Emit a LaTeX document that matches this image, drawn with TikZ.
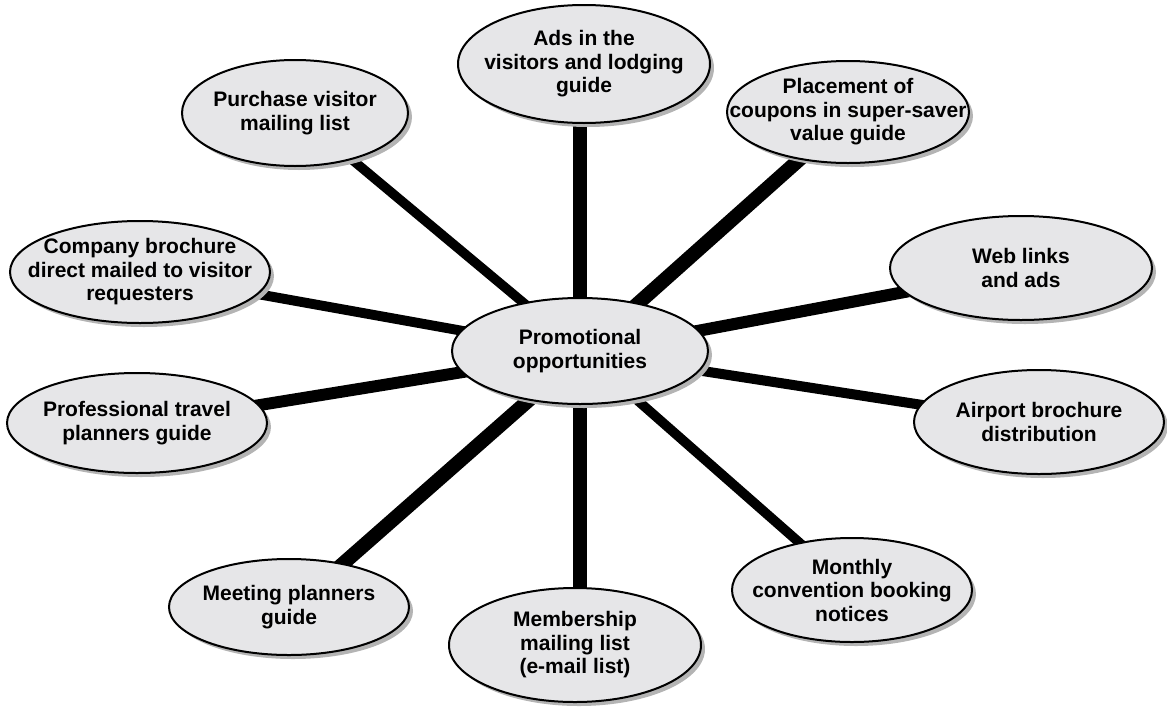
\documentclass[tikz,border=0pt]{standalone}
\usepackage{fontspec}
\setmainfont{Liberation Sans}
\usetikzlibrary{shapes.geometric,shadows,backgrounds}
\definecolor{bubble}{HTML}{E6E6E8}
\definecolor{shade}{HTML}{B4B4B4}
\tikzset{
  bubble/.style n args={3}{ellipse, draw=black, line width=2pt, fill=bubble,
    minimum width=#1, minimum height=#2, inner sep=0pt,
    drop shadow={shadow xshift=4pt, shadow yshift=-4pt, fill=shade, opacity=1},
    label={[bubbletext]center:#3}},
  bubbletext/.style={align=center, inner sep=0pt,
    font=\fontsize{21}{23.5}\selectfont\bfseries},
  link/.style={line width=8pt, black},
  linkshadow/.style={line width=8pt, shade},
}
\begin{document}
\begin{tikzpicture}[x=1pt,y=-1pt]
\useasboundingbox (0,0) rectangle (1167,707);

% hub and satellites
\node[bubble={256}{106}{Promotional\\opportunities}] (c) at (580,351) {};
\node[bubble={252}{118}{Ads in the\\visitors and lodging\\guide}] (ads) at (584,64) {};
\node[bubble={226}{106}{Purchase visitor\\mailing list}] (pur) at (295,113) {};
\node[bubble={242}{102}{Placement of\\coupons in super-saver\\value guide}] (pla) at (848,112) {};
\node[bubble={262}{104}{Web links\\and ads}] (web) at (1021,268) {};
\node[bubble={260}{102}{Company brochure\\direct mailed to visitor\\requesters}] (com) at (140,272) {};
\node[bubble={260}{100}{Professional travel\\planners guide}] (pro) at (137,423) {};
\node[bubble={250}{104}{Airport brochure\\distribution}] (air) at (1039,422) {};
\node[bubble={240}{96}{Meeting planners\\guide}] (mee) at (289,607) {};
\node[bubble={240}{104}{Monthly\\convention booking\\notices}] (mon) at (852,590) {};
\node[bubble={252}{114}{Membership\\mailing list\\(e-mail list)}] (mem) at (575,645) {};

% spokes, drawn underneath the bubbles
\begin{pgfonlayer}{background}
  \foreach \n/\a/\b in {ads/-3/-7, mem/-3/2, pur/0/0, pla/0/0, web/0/0, com/0/0,
                        pro/0/0, air/0/0, mee/0/0, mon/0/0} {
    \draw[linkshadow] ([shift={(\a+6,3)}]c.center) -- ([shift={(\b+6,3)}]\n.center);
  }
  \foreach \n/\a/\b in {ads/-3/-7, mem/-3/2, pur/0/0, pla/0/0, web/0/0, com/0/0,
                        pro/0/0, air/0/0, mee/0/0, mon/0/0} {
    \draw[link] ([xshift=\a]c.center) -- ([xshift=\b]\n.center);
  }
\end{pgfonlayer}
\end{tikzpicture}
\end{document}
